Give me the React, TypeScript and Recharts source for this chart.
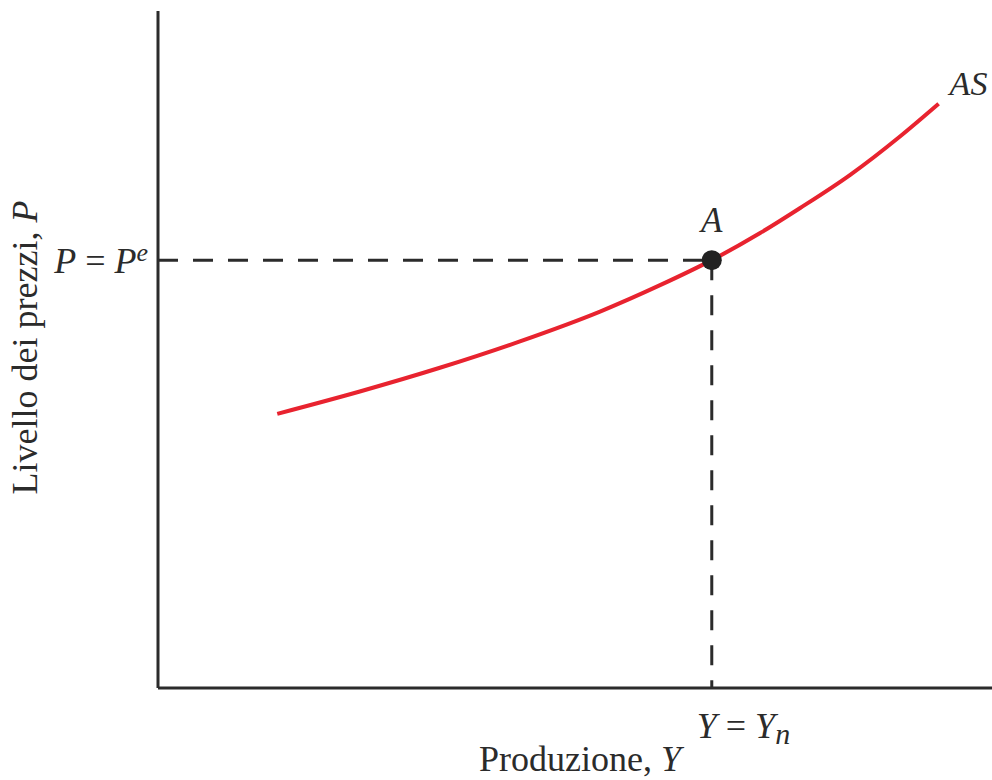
import React from 'react';
import { LineChart, Line, XAxis, YAxis, ReferenceLine, ReferenceDot } from 'recharts';

// Aggregate supply curve AS (output Y, price level P)
const outputY = [14.3, 24.2, 33.8, 43.4, 53.0, 60.2, 66.4, 72.2, 77.0, 83.0, 89.0, 93.6];
const priceP = [40.5, 43.8, 47.3, 51.2, 55.6, 59.5, 63.2, 67.2, 70.9, 75.8, 81.5, 86.3];
// Equilibrium point A
const pointA = { label: 'A', y: 66.4, p: 63.2 };
const xTicks = [66.4];
const yTicks = [63.2];
const seriesName = 'AS';
const xTitle = 'Produzione, ';
const yTitle = 'Livello dei prezzi, ';

const data = outputY.map((y, i) => ({ Y: y, P: priceP[i] }));

const FONT = '"Liberation Serif", "DejaVu Serif", serif';
const INK = '#2b2b2b';
const RED = '#e8232f';

const XTick = (props: any) => {
  const { x, y } = props;
  return (
    <text x={x - 15} y={y + 42} fontFamily={FONT} fontSize={36} fill={INK} fontStyle="italic">
      Y<tspan fontStyle="normal"> = </tspan>Y<tspan fontSize={30} dy={6}>n</tspan>
    </text>
  );
};

const YTick = (props: any) => {
  const { x, y } = props;
  return (
    <text x={x - 2} y={y + 13} textAnchor="end" fontFamily={FONT} fontSize={36} fill={INK} fontStyle="italic">
      P<tspan fontStyle="normal"> = </tspan>P<tspan fontSize={26} dy={-12}>e</tspan>
    </text>
  );
};

const XTitle = (props: any) => {
  const vb = props.viewBox;
  return (
    <text x={vb.x + vb.width / 2 + 5} y={vb.y + 83} textAnchor="middle" fontFamily={FONT} fontSize={36} fill={INK}>
      {xTitle}<tspan fontStyle="italic">Y</tspan>
    </text>
  );
};

const YTitle = (props: any) => {
  const vb = props.viewBox;
  const cx = 37;
  const cy = vb.y + vb.height / 2 - 2;
  return (
    <text x={cx} y={cy} transform={`rotate(-90 ${cx} ${cy})`} textAnchor="middle" fontFamily={FONT} fontSize={36} fill={INK}>
      {yTitle}<tspan fontStyle="italic">P</tspan>
    </text>
  );
};

const EndLabel = (props: any) => {
  const { x, y, index } = props;
  if (index !== data.length - 1) return null;
  return (
    <text x={x + 11} y={y - 9} fontFamily={FONT} fontSize={34} fill={INK} fontStyle="italic">
      {seriesName}
    </text>
  );
};

const PointLabel = (props: any) => {
  const vb = props.viewBox;
  const cx = vb.x + vb.width / 2;
  const cy = vb.y + vb.height / 2;
  return (
    <text x={cx} y={cy - 28} textAnchor="middle" fontFamily={FONT} fontSize={35} fill={INK} fontStyle="italic">
      {pointA.label}
    </text>
  );
};

export default function App() {
  return (
    <div style={{ position: 'absolute', left: 0, top: 0, width: 992, height: 780, background: '#fff' }}>
      <LineChart width={992} height={780} data={data} margin={{ top: 11, right: 0, bottom: 0, left: 0 }}>
        <XAxis
          dataKey="Y"
          type="number"
          domain={[0, 100]}
          ticks={xTicks}
          tick={<XTick />}
          tickLine={false}
          axisLine={{ stroke: INK, strokeWidth: 3 }}
          height={92}
          label={<XTitle />}
        />
        <YAxis
          dataKey="P"
          type="number"
          domain={[0, 100]}
          ticks={yTicks}
          tick={<YTick />}
          tickLine={false}
          axisLine={{ stroke: INK, strokeWidth: 3 }}
          width={158}
          label={<YTitle />}
        />
        <ReferenceLine
          segment={[{ x: 0, y: pointA.p }, { x: pointA.y, y: pointA.p }]}
          stroke={INK}
          strokeWidth={3}
          strokeDasharray="20 15"
        />
        <ReferenceLine
          segment={[{ x: pointA.y, y: pointA.p }, { x: pointA.y, y: 0 }]}
          stroke={INK}
          strokeWidth={3}
          strokeDasharray="20 15"
        />
        <Line
          type="monotone"
          dataKey="P"
          stroke={RED}
          strokeWidth={4}
          dot={false}
          activeDot={false}
          isAnimationActive={false}
          label={<EndLabel />}
        />
        <ReferenceDot x={pointA.y} y={pointA.p} r={10} fill="#222" stroke="none" label={<PointLabel />} />
      </LineChart>
    </div>
  );
}
